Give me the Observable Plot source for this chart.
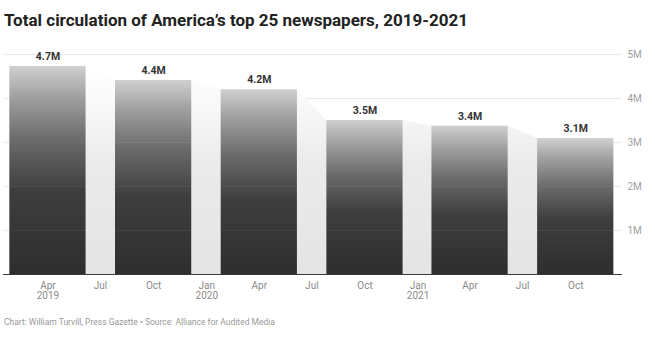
<!DOCTYPE html>
<html><head><meta charset="utf-8">
<script src="https://cdn.jsdelivr.net/npm/d3@7"></script>
<script src="https://cdn.jsdelivr.net/npm/@observablehq/plot@0.6"></script>
<style>
body{margin:0;background:#fff;font-family:Roboto,sans-serif;}
#wrap{position:relative;width:655px;height:343px;overflow:hidden;background:#fff}
#title{position:absolute;left:4px;top:8px;font-size:17px;font-weight:700;color:#222;line-height:24px;white-space:nowrap}
#chart{position:absolute;left:0;top:36px}
#caption{position:absolute;left:4px;top:317px;font-size:8.5px;color:#999;white-space:nowrap}
</style></head><body>
<div id="wrap">
<div id="title">Total circulation of America’s top 25 newspapers, 2019-2021</div>
<div id="chart"></div>
<div id="caption">Chart: William Turvill, Press Gazette • Source: Alliance for Audited Media</div>
</div>
<script>
// Data (circulation in millions)
const periods = ["2019-04-01","2019-10-01","2020-04-01","2020-10-01","2021-04-01","2021-10-01"];
const circulation = [4.73, 4.41, 4.20, 3.50, 3.37, 3.09];
const valueLabels = ["4.7M","4.4M","4.2M","3.5M","3.4M","3.1M"];
const xTickDates = ["2019-04-01","2019-07-01","2019-10-01","2020-01-01","2020-04-01","2020-07-01","2020-10-01","2021-01-01","2021-04-01","2021-07-01","2021-10-01"];
const yTicks = [1, 2, 3, 4, 5];

const HALF = 66; // half bar width in days
const rows = periods.map((p, i) => ({date: new Date(p), value: circulation[i], label: valueLabels[i]}));
const areaRows = rows.flatMap(d => [
  {date: d3.utcDay.offset(d.date, -HALF), value: d.value},
  {date: d3.utcDay.offset(d.date, HALF), value: d.value}
]);
const tickDates = xTickDates.map(s => new Date(s));
const fmtMonth = d3.utcFormat("%b"), fmtYear = d3.utcFormat("%Y");
const xFmt = (d, i) => (i === 0 || d.getUTCMonth() === 0) ? fmtMonth(d) + "\n" + fmtYear(d) : fmtMonth(d);

const chart = Plot.plot({
  width: 655, height: 275,
  marginLeft: 3, marginRight: 33, marginTop: 18, marginBottom: 37,
  style: {fontFamily: "Roboto, sans-serif", fontSize: "10px", background: "transparent"},
  x: {type: "utc", domain: [new Date("2019-01-14"), new Date("2021-12-21")]},
  y: {domain: [0, 5]},
  marks: [
    Plot.ruleY(yTicks, {stroke: "#e8e8e8"}),
    Plot.areaY(areaRows, {x: "date", y: "value", fill: "url(#areaGrad)"}),
    Plot.rectY(rows, {
      x1: d => d3.utcDay.offset(d.date, -HALF),
      x2: d => d3.utcDay.offset(d.date, HALF),
      y: "value", fill: "url(#barGrad)"
    }),
    Plot.ruleY(yTicks, {stroke: "#ffffff", strokeOpacity: 0.06}),
    Plot.ruleY([0], {stroke: "#3a3a3a"}),
    Plot.text(rows, {x: "date", y: "value", text: "label", dy: -10, fontWeight: 700, fontSize: 10.5, fill: "#333"}),
    Plot.axisX(tickDates, {tickSize: 0, tickPadding: 7, tickFormat: xFmt, color: "#8a8a8a", fontSize: 10, label: null}),
    Plot.axisY(yTicks, {anchor: "right", tickSize: 0, tickPadding: 5, tickFormat: d => d + "M", color: "#a0a0a0", fontSize: 10, label: null})
  ]
});

const defs = d3.select(chart).insert("defs", ":first-child");
const bg = defs.append("linearGradient").attr("id", "barGrad").attr("x1", 0).attr("y1", 0).attr("x2", 0).attr("y2", 1);
[[0, "#d0d0d0"], [0.15, "#a0a0a0"], [0.35, "#6c6c6c"], [0.6, "#3e3e3e"], [1, "#2e2e2e"]]
  .forEach(([o, c]) => bg.append("stop").attr("offset", o).attr("stop-color", c));
const ag = defs.append("linearGradient").attr("id", "areaGrad").attr("x1", 0).attr("y1", 0).attr("x2", 0).attr("y2", 1);
[[0, "#ffffff"], [0.25, "#f6f6f6"], [0.45, "#ebebeb"], [1, "#e4e4e4"]]
  .forEach(([o, c]) => ag.append("stop").attr("offset", o).attr("stop-color", c));

document.getElementById("chart").appendChild(chart);
</script>
</body></html>
